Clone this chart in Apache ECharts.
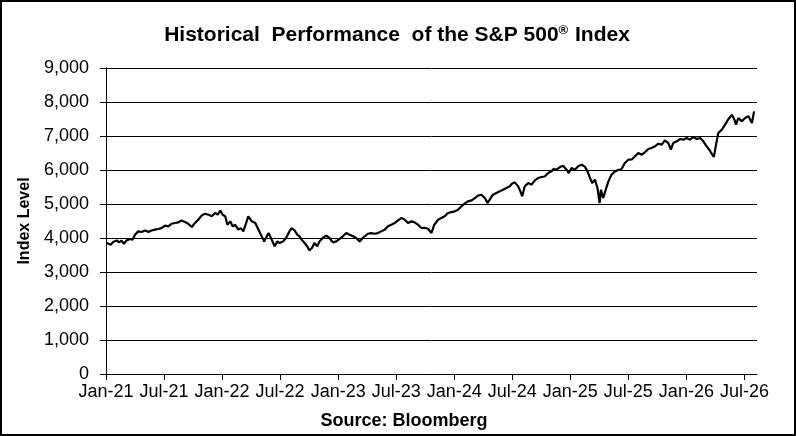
<!DOCTYPE html>
<html>
<head>
<meta charset="utf-8">
<script src="https://cdn.jsdelivr.net/npm/echarts@6/dist/echarts.min.js"></script>
<style>
  html, body { margin: 0; padding: 0; background: #fff; }
  #chart_container { width: 796px; height: 436px; }
</style>
</head>
<body>
<div id="chart_container"></div>
<script>
// dates and index levels
const dates = [
  '2021-01-04','2021-01-08','2021-01-16','2021-01-24','2021-02-04','2021-02-11','2021-02-18','2021-02-25',
  '2021-03-05','2021-03-16','2021-03-24','2021-04-01','2021-04-11','2021-04-21','2021-05-02','2021-05-13',
  '2021-05-23','2021-06-03','2021-06-13','2021-06-23','2021-07-04','2021-07-15','2021-07-25','2021-08-05',
  '2021-08-16','2021-08-26','2021-09-06','2021-09-16','2021-09-27','2021-10-07','2021-10-18','2021-10-29',
  '2021-11-08','2021-11-19','2021-11-29','2021-12-10','2021-12-18','2021-12-26','2022-01-03','2022-01-11',
  '2022-01-18','2022-01-27','2022-02-04','2022-02-11','2022-02-20','2022-02-27','2022-03-07','2022-03-16',
  '2022-03-23','2022-04-03','2022-04-14','2022-04-24','2022-05-04','2022-05-12','2022-05-20','2022-05-26',
  '2022-06-05','2022-06-14','2022-06-22','2022-06-29','2022-07-10','2022-07-20','2022-07-31','2022-08-07',
  '2022-08-16','2022-08-25','2022-09-01','2022-09-08','2022-09-17','2022-09-25','2022-10-02','2022-10-10',
  '2022-10-18','2022-10-27','2022-11-03','2022-11-13','2022-11-24','2022-12-04','2022-12-15','2022-12-26',
  '2023-01-05','2023-01-16','2023-01-27','2023-02-06','2023-02-16','2023-02-25','2023-03-08','2023-03-15',
  '2023-03-24','2023-04-03','2023-04-14','2023-04-24','2023-05-04','2023-05-15','2023-05-26','2023-06-05',
  '2023-06-16','2023-06-26','2023-07-07','2023-07-18','2023-07-28','2023-08-08','2023-08-19','2023-08-29',
  '2023-09-09','2023-09-19','2023-09-29','2023-10-10','2023-10-15','2023-10-21','2023-10-30','2023-11-11',
  '2023-11-21','2023-12-01','2023-12-12','2023-12-23','2024-01-03','2024-01-13','2024-01-24','2024-02-03',
  '2024-02-13','2024-02-24','2024-03-05','2024-03-15','2024-03-26','2024-04-06','2024-04-14','2024-04-21',
  '2024-05-01','2024-05-12','2024-05-23','2024-06-02','2024-06-13','2024-06-23','2024-06-30','2024-07-09',
  '2024-07-20','2024-07-27','2024-08-02','2024-08-10','2024-08-21','2024-09-01','2024-09-11','2024-09-21',
  '2024-10-02','2024-10-12','2024-10-23','2024-11-03','2024-11-08','2024-11-18','2024-11-29','2024-12-09',
  '2024-12-20','2024-12-27','2025-01-05','2025-01-16','2025-01-26','2025-02-06','2025-02-15','2025-02-23',
  '2025-03-02','2025-03-09','2025-03-18','2025-03-26','2025-04-02','2025-04-06','2025-04-13','2025-04-21',
  '2025-04-29','2025-05-09','2025-05-20','2025-05-31','2025-06-10','2025-06-20','2025-07-01','2025-07-12',
  '2025-07-22','2025-08-02','2025-08-13','2025-08-23','2025-09-03','2025-09-13','2025-09-24','2025-10-04',
  '2025-10-15','2025-10-25','2025-11-05','2025-11-13','2025-11-20','2025-12-01','2025-12-12','2025-12-22',
  '2026-01-02','2026-01-13','2026-01-23','2026-02-03','2026-02-13','2026-02-22','2026-03-04','2026-03-12',
  '2026-03-20','2026-03-27','2026-04-02','2026-04-10','2026-04-21','2026-05-01','2026-05-12','2026-05-23',
  '2026-05-31','2026-06-05','2026-06-12','2026-06-23','2026-07-03','2026-07-14','2026-07-25','2026-08-01'
];
const levels = [
  3853,3900,3803,3880,3930,3870,3920,3830,
  3930,3970,3950,4097,4195,4176,4220,4180,
  4220,4245,4264,4290,4362,4340,4420,4440,
  4460,4518,4470,4420,4323,4440,4540,4666,
  4715,4685,4640,4735,4685,4803,4685,4640,
  4391,4490,4340,4390,4245,4290,4195,4440,
  4636,4490,4440,4245,4048,3900,4048,4150,
  3950,3754,3900,3853,3900,4000,4195,4294,
  4225,4097,4050,3950,3853,3754,3636,3705,
  3853,3754,3900,4000,4070,4000,3873,3900,
  3970,4050,4145,4097,4050,4000,3900,3970,
  4050,4125,4145,4125,4145,4195,4244,4342,
  4390,4441,4520,4588,4540,4441,4490,4460,
  4390,4294,4300,4270,4294,4147,4391,4538,
  4588,4637,4735,4760,4784,4833,4931,5009,
  5078,5105,5176,5245,5274,5176,5029,5127,
  5274,5323,5372,5421,5470,5519,5597,5637,
  5519,5372,5225,5519,5617,5568,5695,5764,
  5794,5810,5911,5960,6029,6009,6088,6127,
  6009,5911,6058,6009,6107,6156,6100,5960,
  5764,5617,5715,5470,5029,5421,5176,5421,
  5666,5862,5960,6000,6029,6205,6303,6310,
  6401,6500,6450,6520,6617,6647,6696,6774,
  6745,6872,6793,6598,6793,6843,6911,6892,
  6940,6892,6970,6911,6940,6843,6696,6598,
  6480,6382,6696,7088,7186,7333,7500,7627,
  7480,7333,7530,7431,7530,7578,7382,7725
];
const tickLabels = ['Jan-21','Jul-21','Jan-22','Jul-22','Jan-23','Jul-23','Jan-24','Jul-24','Jan-25','Jul-25','Jan-26','Jul-26'];

// months since Jan 1 2021
function month_index(s){
    const [y, mo, d] = s.split('-').map(Number);
    const dim = new Date(y, mo, 0).getDate();
    return (y - 2021) * 12 + (mo - 1) + (d - 1) / dim;
}

document.addEventListener("DOMContentLoaded", function () {
    const chart = echarts.init(document.getElementById('chart_container'));
    const font = '"Liberation Sans", Arial, sans-serif';
    const tickVals = tickLabels.map((_, i) => i * 6);
    const seriesData = dates.map((d, i) => [month_index(d), levels[i]]);

    const option = {
        animation: false,
        backgroundColor: '#fff',
        grid: { left: 106, right: 39, top: 68, bottom: 62 },
        xAxis: {
            type: 'value', min: 0, max: 67.3,
            axisLine: { lineStyle: { color: '#000', width: 1 } },
            axisTick: { customValues: tickVals, length: 6, lineStyle: { color: '#000' } },
            axisLabel: {
                customValues: tickVals,
                formatter: v => tickLabels[Math.round(v / 6)] || '',
                color: '#000', fontFamily: font, fontSize: 18, margin: 9
            },
            splitLine: { show: false }
        },
        yAxis: {
            type: 'value', min: 0, max: 9000, interval: 1000,
            name: 'Index Level', nameLocation: 'middle', nameGap: 62,
            nameTextStyle: { color: '#000', fontFamily: font, fontSize: 16, fontWeight: 'bold' },
            axisLine: { show: true, lineStyle: { color: '#000', width: 1 } },
            axisTick: { show: true, length: 6, lineStyle: { color: '#000' } },
            axisLabel: {
                formatter: v => v.toLocaleString('en-US'),
                color: '#000', fontFamily: font, fontSize: 18, margin: 17
            },
            splitLine: { show: true, lineStyle: { color: '#000', width: 1 } }
        },
        graphic: [
            { type: 'rect', shape: { x: 1, y: 1, width: 794, height: 434 },
              style: { fill: 'none', stroke: '#000', lineWidth: 2 }, silent: true },
            { type: 'text', x: 397, y: 35,
              style: {
                  text: '{a|Historical  Performance  of the S&P 500}{s|®}{a| Index}',
                  align: 'center', verticalAlign: 'middle',
                  rich: {
                      a: { fontFamily: font, fontSize: 21, fontWeight: 'bold', fill: '#000' },
                      s: { fontFamily: font, fontSize: 13, fontWeight: 'bold', fill: '#000', verticalAlign: 'top', padding: [0, 1, 9, 0] }
                  }
              } },
            { type: 'text', x: 404, y: 421,
              style: { text: 'Source: Bloomberg', align: 'center', verticalAlign: 'middle',
                       fontFamily: font, fontSize: 18, fontWeight: 'bold', fill: '#000' } }
        ],
        series: [{
            type: 'line',
            data: seriesData,
            showSymbol: false,
            lineStyle: { color: '#000', width: 2.2 },
            itemStyle: { color: '#000' }
        }]
    };
    chart.setOption(option);
});
</script>
</body>
</html>
